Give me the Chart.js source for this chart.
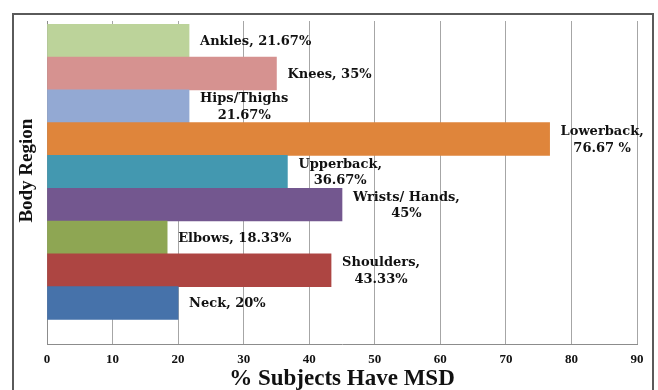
<!DOCTYPE html>
<html>
<head>
<meta charset="utf-8">
<script src="https://cdn.jsdelivr.net/npm/chart.js@4.4.1/dist/chart.umd.min.js"></script>
<style>
  body { margin: 0; background: #fff; }
  #wrap { position: relative; width: 658px; height: 390px; overflow: hidden; }
  #frame { position: absolute; left: 12px; top: 13px; width: 638px; height: 400px; border: 2px solid #5a5a5a; }
  #myChart { position: absolute; left: 0; top: 0; }
</style>
</head>
<body>
<div id="wrap">
  <div id="frame"></div>
  <canvas id="myChart" width="658" height="390"></canvas>
</div>
<script>
// body regions, top to bottom
const regions = ['Ankles', 'Knees', 'Hips/Thighs', 'Lowerback', 'Upperback', 'Wrists/ Hands', 'Elbows', 'Shoulders', 'Neck'];
const percentMSD = [21.67, 35, 21.67, 76.67, 36.67, 45, 18.33, 43.33, 20];
const barLabels = [
  ['Ankles, 21.67%'],
  ['Knees, 35%'],
  ['Hips/Thighs', '21.67%'],
  ['Lowerback,', '76.67 %'],
  ['Upperback,', '36.67%'],
  ['Wrists/ Hands,', '45%'],
  ['Elbows, 18.33%'],
  ['Shoulders,', '43.33%'],
  ['Neck, 20%']
];
const barColors = ['#bcd39a', '#d69290', '#93a9d3', '#df853b', '#4398b0', '#73578f', '#8ea653', '#ad4542', '#4672aa'];
const xTicks = [0, 10, 20, 30, 40, 50, 60, 70, 80, 90];

// etiquettes a droite des barres
const barText = {
  id: 'barText',
  afterDatasetsDraw(chart) {
    const ctx = chart.ctx;
    const meta = chart.getDatasetMeta(0);
    ctx.save();
    ctx.font = 'bold 13px "DejaVu Serif"';
    ctx.fillStyle = '#111';
    ctx.textAlign = 'center';
    ctx.textBaseline = 'middle';
    meta.data.forEach(function(bar, i) {
      const lines = barLabels[i];
      let w = 0;
      lines.forEach(function(l) { w = Math.max(w, ctx.measureText(l).width); });
      const left = bar.x + 11;
      lines.forEach(function(l, j) {
        ctx.fillText(l, left + w / 2, bar.y + 1 + (j - (lines.length - 1) / 2) * 16.5);
      });
    });
    ctx.restore();
  }
};

const ctx = document.getElementById('myChart');
new Chart(ctx, {
  type: 'bar',
  data: {
    labels: regions,
    datasets: [{
      label: '% Subjects Have MSD',
      data: percentMSD.map(function(v, i) { return { x: v, y: i }; }),
      backgroundColor: barColors,
      borderWidth: 0,
      categoryPercentage: 1,
      barPercentage: 1
    }]
  },
  options: {
    indexAxis: 'y',
    responsive: false,
    animation: false,
    devicePixelRatio: 1,
    layout: { padding: { top: 21, right: 21, left: 0, bottom: 0 } },
    plugins: { legend: { display: false }, tooltip: { enabled: false } },
    scales: {
      x: {
        type: 'linear',
        min: 0,
        max: 90,
        afterBuildTicks: function(scale) { scale.ticks = xTicks.map(function(v) { return { value: v }; }); },
        afterFit: function(scale) { scale.height = 46; },
        grid: { color: '#a6a6a6', lineWidth: 1, drawTicks: false },
        border: { color: '#8c8c8c', width: 1 },
        ticks: {
          padding: 8,
          color: '#111',
          font: { family: '"Liberation Serif"', weight: 'bold', size: 13 }
        },
        title: {
          display: true,
          text: '% Subjects Have MSD',
          color: '#111',
          font: { family: '"Liberation Serif"', weight: 'bold', size: 23, lineHeight: 1 },
          padding: { top: 0, bottom: -1 }
        }
      },
      y: {
        type: 'linear',
        reverse: true,
        min: -0.6,
        max: 9.25,
        offset: false,
        afterFit: function(scale) { scale.width = 47; },
        grid: { display: false },
        border: { color: '#8c8c8c', width: 1 },
        ticks: { display: false, stepSize: 1, includeBounds: false },
        title: {
          display: true,
          text: '     Body Region',
          color: '#111',
          font: { family: '"Liberation Serif"', weight: 'bold', size: 19 },
          padding: { top: 16, bottom: 0 }
        }
      }
    }
  },
  plugins: [barText]
});
</script>
</body>
</html>
